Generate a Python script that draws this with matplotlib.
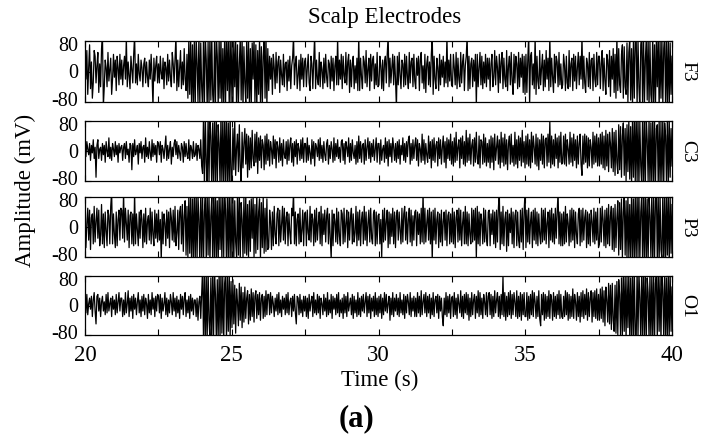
import numpy as np
import matplotlib
matplotlib.use("Agg")
import matplotlib.pyplot as plt
import matplotlib.transforms as mtransforms


plt.rcParams["font.family"] = ["Liberation Serif", "DejaVu Serif"]
plt.rcParams["axes.unicode_minus"] = False

########################################
# Data (amplitude in mV, 20 s .. 40 s)
########################################

channels = ["F3", "C3", "P3", "O1"]

f3 = [
    35, -20, 55, -60, 10, 70, -45, 25, -70, -30, 55, 40, -30, 15, 50, -55, 20, -40, 60, 95,
    -90, -40, 30, 10, -40, 50, -25, 5, 35, -60, -20, 45, -15, 30, -50, 40, 10, -35, 45, -20,
    30, -35, 15, 40, -20, 90, -40, 25, -10, -45, 40, 5, -30, 45, 95, -30, 20, -35, 45, -5,
    -25, 30, 10, -40, 20, 35, -30, 25, -15, -40, 30, -20, 45, -10, -95, 35, -25, 15, 40, -30,
    20, -30, 40, -5, -20, 35, -45, 25, 10, -35, 45, -25, 30, -15, -40, 50, 20, -30, 35, 95,
    -50, 30, -40, 5, 55, -45, 25, -35, 60, -20, -50, 45, -70, 85, -60, 90, -85, 70, -95, 80,
    -95, 90, 20, -80, 100, -95, 75, -40, -100, 95, -85, 90, 30, -100, 80, -90, 100, -75, 95, -60,
    -100, 85, -90, 100, 40, -95, 90, -70, 100, -100, 60, -85, 95, -90, 100, -50, 85, -95, 100, -80,
    90, -95, 80, -40, 85, -95, 70, -85, 20, 90, -75, 95, -100, 65, -30, -80, 85, -70, 90, -95,
    60, -90, 75, -20, 95, -85, 70, -100, 55, -60, 90, -80, 65, -95, 40, 85, -70, 95, -90, 60,
    -50, 40, -20, 35, -60, 45, 10, -45, 50, -30, 25, 40, -55, 30, -10, -35, 45, -40, 20, 25,
    -50, 30, -25, 40, -45, 15, 35, 95, -35, 20, 40, -45, -10, 30, -50, 45, -20, 35, -40, 25,
    35, -40, 10, 45, -30, -50, 40, 20, -45, 30, 95, -45, 30, -20, -35, 50, -40, 25, 5, -45,
    35, -30, 45, -15, -40, 30, 20, -45, 40, -25, 35, -50, 15, 40, -35, 90, -35, 30, -20, 45,
    -45, 40, -10, -30, 50, -35, 25, 45, -55, 30, -40, 20, 40, -45, 15, -30, 35, -50, 95, -50,
    35, -15, -45, 40, 25, -30, 55, -40, 5, 35, -50, 45, -25, 30, 40, -45, 20, -35, 50, -40,
    -35, 40, 15, -45, 30, -50, 25, 40, -30, 45, 95, -40, 35, -30, 10, 45, -35, 40, -20, -95,
    40, -35, 50, -10, -45, 30, 20, -40, 45, -35, 40, -15, -45, 50, -30, 25, 35, -40, 45, -25,
    -45, 35, -10, 40, -50, 30, 50, -30, 15, -45, 45, -55, 20, 40, -35, 25, -40, 45, 95, -60,
    40, -20, -45, 35, 10, -50, 45, -35, 30, -15, 40, -40, 25, -30, 95, -40, 30, -25, 45, -35,
    -40, 45, 10, -35, 50, -45, 35, -20, -40, 50, -30, 25, 45, -50, 15, 40, 95, -50, 40, -45,
    20, 35, -40, 30, -25, 45, -90, 45, -40, 10, 50, -35, 40, -45, 25, -30, 45, -40, 35, -20,
    35, -50, 20, 45, -40, -15, 55, -35, 40, 10, -55, 45, -30, 25, 50, -45, 35, -20, -40, 55,
    -50, 15, 40, -35, 50, -25, -60, 45, -30, 40, 20, -45, 50, -40, 35, -15, 45, -55, 40, -60,
    45, -55, 30, 95, -90, 40, 50, -35, 20, -45, 95, -60, 40, -25, -45, 55, -35, 10, 45, -50,
    30, -40, 55, -20, 35, -50, 95, -40, 35, -15, -55, 45, -30, 40, 25, -40, 50, -35, 20, -45,
    -35, 45, 15, -50, 40, -30, -45, 55, -40, 20, 35, -50, 45, -25, 40, -45, 10, 50, -35, 40,
    -20, 95, -45, 40, -30, -55, 35, 20, -40, 50, -45, 30, 35, -50, 45, -20, -40, 50, -35, 40,
    40, -45, 20, 55, -50, 35, -25, -60, 45, 30, -40, 55, -65, 40, -20, 60, -55, 45, -70, 95,
    -50, 60, -35, -55, 45, 70, -70, 65, -40, -60, 75, -80, 50, 85, -75, 60, -90, 80, -70, 90,
    95, -90, 85, -40, -100, 70, 95, -95, 100, -85, 30, 90, -75, 95, -100, 80, -60, -90, 100, -85,
    70, -95, 90, -40, 100, -100, 85, -70, 95, -90, 60, 100, -95, 80, -85, 95, -100, 75, -60, 40,
]

c3 = [
    10, -15, 25, 5, -10, 20, -25, 15, -5, 30, -20, 10, -70, 15, 30, -20, 5, 10, -25, 20,
    -10, 15, -30, 25, 0, -15, 35, -20, 10, -25, 20, 5, -15, 25, -10, 15, -30, 20, -5, 10,
    15, -25, 10, 20, -20, 25, -10, 5, -30, 20, 15, -50, 20, -15, 30, -10, 0, 15, -35, 20,
    -5, 25, -20, 10, 15, -30, 35, -15, 10, -20, 25, -5, -25, 30, -15, 20, -10, 15, -30, 25,
    20, -10, 25, -30, 15, 5, -20, 10, 40, -25, 15, -20, 5, 25, -35, 10, -15, 20, 30, -10,
    25, -20, 15, -5, -25, 20, 10, -30, 25, -15, 20, -10, -20, 30, -25, 15, 5, -20, 25, -15,
    -10, 20, -25, 15, 5, -20, 30, -40, -60, 95, -100, 90, -30, -95, 100, -85, 95, 40, -100, 75,
    -90, 95, -80, 85, -100, 70, 20, -95, 100, -90, 85, -100, 90, -80, 95, -100, 75, -95, 100, -85,
    -75, 60, -50, 85, -65, 10, 45, -55, 70, -40, -90, 50, -45, 20, 60, -35, 45, -70, 40, -50,
    35, -45, 55, -20, -40, 45, -30, 50, -60, 35, -25, 40, -45, 30, 15, -50, 40, -35, 45, -25,
    30, -40, 25, 5, -35, 40, -20, 30, -45, 25, 10, -30, 35, -25, 20, -40, 30, -10, -20, 25,
    -35, 30, -25, 15, 35, -30, 20, -40, 25, -15, 30, -35, 20, 5, -25, 30, -20, 35, -30, 20,
    20, -30, 35, -25, 15, -5, -35, 30, -20, 25, -40, 20, 10, -15, 30, -25, 35, -20, 15, -30,
    25, -10, -25, 20, 30, -35, 15, -20, 25, 5, -30, 35, -25, 20, -15, 30, -20, 10, -30, 25,
    30, -25, 20, -35, 25, 10, -15, 35, -30, 20, -25, 30, -5, -20, 15, -35, 25, -30, 40, -20,
    25, -30, 15, 20, -35, 30, -25, 10, 35, -20, 25, -30, 20, -15, 30, -25, 5, 35, -30, 20,
    20, -35, 30, -25, 5, 15, -30, 35, -20, 25, -40, 30, -15, 20, -30, 35, 10, -25, 20, -30,
    25, -20, 30, -35, 15, -10, 35, -25, 20, -30, 25, -15, 30, 40, -35, 20, -25, 30, -20, 15,
    35, -25, 30, -40, 20, 5, -30, 45, -25, 30, -35, 20, -10, -30, 40, -20, 25, -45, 30, -25,
    35, -30, 15, 25, -40, 35, -20, 30, -35, 10, 40, -30, 25, -45, 35, -20, 30, -25, 45, -35,
    25, -40, 35, -30, 50, -25, 10, 30, -45, 35, -20, 40, -35, 25, -40, 55, -30, 35, -25, 45,
    -35, 15, 30, -40, 35, -30, 50, -20, -35, 40, -45, 30, 25, -35, 45, -30, 35, -40, 20, -30,
    30, -45, 40, -30, 35, -50, 45, -25, 10, 40, -35, 30, -45, 50, -30, 35, -40, 45, -35, 30,
    -50, 20, 40, -35, 45, -30, 15, -40, 50, -35, 30, -45, 40, -25, 35, -40, 55, -30, 25, -45,
    40, -35, 45, -40, 30, -45, 50, -30, 40, 10, -35, 45, -40, 35, -50, 30, -25, 45, -35, 40,
    -45, 30, 35, -40, 45, -30, 80, -45, 40, -35, 30, -40, 45, -20, 35, -45, 40, -30, 50, -35,
    -30, 40, -35, 45, -40, 30, 5, -35, 50, -30, 35, -40, 45, -25, 30, -45, 40, -35, 20, 45,
    -35, -65, 40, -35, 45, -30, 40, -45, 35, -40, 30, 10, -45, 50, -35, 40, -30, 45, -40, 35,
    -40, 45, -35, 50, -45, 40, -50, 55, -40, 45, -55, 50, 20, -45, 60, -55, 50, -65, 55, -30,
    -60, 70, -50, 65, -70, 40, 75, -65, 60, -80, 70, -55, 85, -75, 65, -90, 80, -70, 95, -85,
    100, -85, 95, -100, 80, -40, -90, 100, -95, 85, -100, 90, 30, -80, 95, -100, 75, -95, 100, -90,
    85, -100, 60, 70, -95, 90, -100, 80, -85, 95, -100, 75, 40, -90, 100, -95, 85, -70, 60, -40,
]

p3 = [
    40, -55, 10, 50, -35, 45, -60, 25, 35, -45, 55, -40, 15, 50, -30, 45, -50, -20, 60, -45,
    35, -55, 40, -10, -50, 45, 30, -45, 55, 95, -45, 35, -20, -55, 40, -50, 20, 45, -35, 50,
    45, -30, 95, -40, 50, 10, -35, 45, -55, 30, 40, -45, 35, -50, 95, -45, 35, -10, -50, 40,
    -30, 45, 20, -55, 35, -40, 50, -45, 15, 30, -35, 50, -45, 40, -20, -50, 45, -30, 35, -40,
    45, -35, 20, -90, 40, -45, 35, 10, -50, 45, -30, 40, -55, 50, 25, -35, 45, -40, 55, -50,
    -15, 45, -60, 40, 55, -45, 60, -65, 30, 70, -75, 55, -80, 85, -70, 90, -95, 75, -85, 95,
    -95, 100, -90, 85, 20, -100, 95, -80, 90, -100, 40, 85, -95, 100, -75, 90, -95, 30, 80, -100,
    95, -85, 100, -90, 70, -100, 95, -60, 85, -95, 100, -80, 90, 45, -100, 95, -85, 100, -90, 80,
    -90, 85, -95, 70, -40, -80, 95, -75, 85, -90, 65, 20, -85, 80, -70, 90, -75, 60, -80, 70,
    -65, 75, -30, 85, -80, 60, -70, 90, -60, 40, 75, -85, 65, -55, 80, -70, 50, -65, 75, -60,
    -55, 45, 15, -60, 40, -50, 55, -20, -45, 35, 50, -50, 45, -40, 10, 55, -35, 50, -45, 25,
    40, -50, 35, -15, -45, 50, 30, 95, -45, 40, -50, 20, 35, -45, 50, -40, -10, 45, -50, 35,
    40, -50, 45, -15, -35, 55, -40, 35, 20, -50, 45, -40, 50, -35, 10, 40, -45, 55, -50, 35,
    -20, 45, -40, 30, 50, -45, 35, -30, -85, 45, -50, 35, 15, -40, 50, -45, 40, -25, -50, 45,
    35, -45, 50, -40, 10, 45, -55, 40, -35, 25, 50, -45, 35, -40, -15, 55, -50, 40, -35, 45,
    -50, 20, 40, -45, 55, -35, 40, -50, 10, 45, -40, 50, -30, -45, 35, 45, -50, 40, -45, 30,
    35, -45, 20, -80, 45, -40, 50, -35, 15, 45, -55, 40, -45, 35, -25, 50, -45, 40, -55, 30,
    45, -35, 40, -10, -45, 50, -40, 35, 55, -35, 40, -45, 20, 50, -40, 45, -50, 30, -35, 40,
    45, -50, 40, -20, 35, -45, 50, -40, 95, -45, 50, -40, 10, 45, -35, 50, -45, 40, -90, 45,
    -35, 50, -45, 20, 40, -55, 35, -40, 45, -50, 15, 40, -35, 45, -50, 30, 40, -45, 35, -40,
    50, -45, 40, -55, 25, 45, -40, 50, -35, 45, -50, 10, 40, -45, 55, -45, 40, -50, 35, -20,
    -45, 50, -40, 45, -35, 50, -85, 55, -45, 40, -50, 35, 15, -45, 50, -40, 45, -30, -50, 40,
    45, -50, 35, -20, 45, -45, 40, -55, 45, -40, 50, 95, -60, 40, -45, 55, -50, 20, 40, -65,
    45, -50, 35, -15, 50, -45, 40, -55, 30, 45, -50, 40, -35, -55, 45, -40, 50, -60, 40, 95,
    -55, 45, -40, 50, -45, 15, 40, -55, 45, -35, 50, -45, 40, -50, 35, -20, -45, 50, -40, 45,
    -35, 50, -45, 10, 40, -55, 45, -35, 50, -40, 35, -45, 50, -30, 40, 95, -45, 40, -50, 35,
    -50, 40, -45, 55, -40, 35, 10, -50, 45, -40, 50, -35, 45, -55, 40, -20, -45, 35, 50, -50,
    45, -40, 50, -35, 25, 45, -55, 40, -45, 35, -50, 45, 15, -40, 50, -45, 40, -35, 50, -55,
    -45, 50, -40, 55, 20, -50, 45, -55, 50, -45, 60, -50, 30, 55, -60, 50, -65, 60, -55, 25,
    70, -75, 65, -60, 75, -80, 40, 85, -75, 70, -85, 90, -80, 60, -90, 95, -85, 75, -95, 90,
    -90, 95, -80, 100, -95, 40, 85, -100, 90, -85, 100, -95, 75, -100, 90, 30, -80, 95, -100, 85,
    -90, 70, 100, -95, 85, -100, 90, -60, -85, 100, -95, 80, -100, 95, -75, 90, -100, 85, -70, 60,
]

o1 = [
    15, -20, 30, -25, 5, 20, -10, 25, -30, 15, 35, -15, -50, 25, 30, -15, 20, -30, 10, 25,
    -15, 10, -25, 30, -20, 35, -15, 5, 20, -30, 25, -10, 15, -25, 30, -20, 10, 35, -15, 20,
    20, -30, 15, -25, 35, -20, 5, 40, -30, 20, -15, 25, -35, 30, -10, 20, -25, 10, 35, -20,
    15, -30, 25, -15, 30, -25, 20, 5, -35, 30, -20, 15, -25, 35, -10, 20, -30, 25, -15, 30,
    25, -20, 30, -35, 20, -15, 5, 35, -25, 20, -30, 15, -20, 30, 10, -25, 35, -15, 20, -30,
    25, -20, 15, -35, 30, -10, 25, -25, 20, 35, -30, 15, -20, 25, -35, 30, -15, 20, -25, 15,
    15, -30, 20, -40, 10, 25, -35, 30, 100, -95, 90, -100, 85, -95, 100, -40, -90, 75, -100, 95,
    -80, 90, 30, -100, 70, -85, 95, -90, 100, -75, 85, -100, 60, 90, -95, 80, -70, 95, -85, 65,
    -60, 70, -50, 55, -75, 45, 10, -55, 60, -40, 50, -60, 35, -45, 50, -35, 20, 40, -50, 30,
    -40, 45, -30, 35, -45, 25, 40, -35, 30, -25, 35, -40, 20, 30, -35, 25, -30, 40, -25, 30,
    30, -25, 35, -20, 25, 5, -30, 20, -15, 30, -25, 35, -20, 15, -30, 25, -10, 20, -25, 30,
    -20, 35, -25, 10, 20, -30, 25, -15, 30, -20, -50, 25, 20, -25, 30, -20, 15, -30, 25, -15,
    25, -30, 20, -35, 30, -15, 10, 25, -30, 35, -20, 15, -25, 30, -20, 25, -35, 20, 5, -25,
    30, -15, 20, -30, 35, -25, 15, -20, 30, -35, 25, -10, 20, -25, 30, -20, 35, -30, 15, -20,
    20, -35, 30, -20, 25, -30, 35, -15, 5, 20, -25, 30, -35, 25, -20, 15, -30, 35, -25, 20,
    -30, 25, -15, 30, -20, 10, 35, -30, 25, -20, 30, -35, 20, -15, 25, -30, 35, -25, 20, -30,
    25, -20, 30, -35, 20, -25, 35, -15, 30, -20, 5, 25, -40, 20, -25, 35, -30, 20, -15, 30,
    -25, 20, -30, 35, -20, 15, -25, 30, -35, 25, -20, 30, 10, -25, 35, -30, 20, -15, 25, -30,
    20, -30, 35, -20, 25, -30, 40, -25, 10, 30, -20, 35, -30, 25, -20, 30, -35, 20, -25, 35,
    -30, 15, 25, -20, 30, -35, 25, -15, 20, -30, -55, 20, -25, 35, -30, 25, -20, 30, -35, 20,
    25, -30, 35, -25, 20, -35, 30, 5, -20, 40, -30, 25, -35, 30, -20, 35, -25, 30, -40, 20,
    -30, 35, -25, 15, 30, -35, 25, -20, 40, -30, 35, -25, 20, -35, 30, 10, -25, 35, -30, 25,
    35, -25, 30, -35, 25, -30, 40, -20, 15, 35, -30, 25, -35, 30, -25, 80, -30, 35, -40, 25,
    -30, 35, -25, 40, -35, 30, -25, 35, 10, -30, 40, -35, 25, -30, 35, -40, 30, -25, 35, -30,
    -30, 35, -40, 25, -35, 30, -25, 40, -30, 35, 10, -35, 25, -30, 40, -35, -55, 30, -25, 35,
    -40, 30, -35, 25, -30, 40, -35, 30, 15, -40, 35, -30, 25, -35, 30, -25, 40, -35, 30, -30,
    -35, 25, -30, 40, -25, 35, -40, 30, -35, 25, -30, 45, -35, 30, 10, -40, 35, -30, 25, -45,
    35, -30, 40, -35, 30, -25, 45, -40, 35, -30, 20, 40, -45, 35, -30, 40, -35, 45, -40, 30,
    -40, 45, -35, 50, -45, 40, -55, 50, 15, -45, 60, -50, 55, -65, 60, -40, -70, 55, -75, 65,
    -80, 70, 30, -85, 75, -80, 90, -70, 85, -95, 80, -60, 95, -90, 75, -100, 90, -85, 100, -80,
    -95, 100, -85, 90, 20, -100, 95, -80, 100, -90, 85, -100, 75, 35, -95, 90, -100, 80, -85, 95,
    -100, 60, 90, -95, 100, -70, 85, -100, 95, 40, -90, 100, -85, 75, -100, 95, -80, 90, -70, 50,
]

signals = [f3, c3, p3, o1]

t_start = 20
t_end = 40
x_ticks = [20, 25, 30, 35, 40]
x_minor = [22.5, 27.5, 32.5, 37.5]
y_ticks = [-80, 0, 80]

########################################
# Figure
########################################

fig = plt.figure(figsize=(7.01, 4.41), dpi=100)

left = 85 / 701
width = (672 - 85) / 701
# panel top / bottom in pixels
panel_px = [(41, 102), (121, 181), (197, 257), (276, 335)]

# small nudge so the -80 / 80 labels of stacked panels do not collide
nudge_up = mtransforms.ScaledTranslation(0, 2 / 72, fig.dpi_scale_trans)
nudge_down = mtransforms.ScaledTranslation(0, -2 / 72, fig.dpi_scale_trans)

for i, (name, sig) in enumerate(zip(channels, signals)):
    top, bottom = panel_px[i]
    ax = fig.add_axes([left, 1 - bottom / 441, width, (bottom - top) / 441])
    t = np.linspace(t_start, t_end, len(sig))
    ax.plot(t, sig, color="black", linewidth=0.9)

    ax.set_xlim(t_start, t_end)
    ax.set_ylim(-80, 80)
    ax.set_yticks(y_ticks)
    ax.set_xticks(x_ticks)
    ax.set_xticks(x_minor, minor=True)
    ax.tick_params(which="both", direction="in", length=4, width=0.8,
                   top=True, right=True, labelsize=16.5)
    ax.tick_params(axis="y", pad=5, labelsize=14.5)
    ax.tick_params(axis="x", pad=7)
    if i < len(channels) - 1:
        ax.tick_params(labelbottom=False)

    ylabels = ax.get_yticklabels()
    ylabels[0].set_transform(ylabels[0].get_transform() + nudge_up)
    ylabels[-1].set_transform(ylabels[-1].get_transform() + nudge_down)

    for spine in ax.spines.values():
        spine.set_linewidth(0.9)

    fig.text(688 / 701, 1 - (top + bottom) / 2 / 441, name, rotation=270,
             ha="center", va="center", fontsize=14)

fig.text(385 / 701, 1 - 17.5 / 441, "Scalp Electrodes",
         ha="center", va="center", fontsize=16.5)
fig.text(25 / 701, 1 - 190 / 441, "Amplitude (mV)", rotation=90,
         ha="center", va="center", fontsize=16.5)
fig.text(380 / 701, 1 - 380 / 441, "Time (s)",
         ha="center", va="center", fontsize=16.5)
fig.text(357 / 701, 1 - 419 / 441, "(a)", fontweight="bold",
         ha="center", va="center", fontsize=22)

fig.savefig("out.png", dpi=100)
plt.close(fig)
